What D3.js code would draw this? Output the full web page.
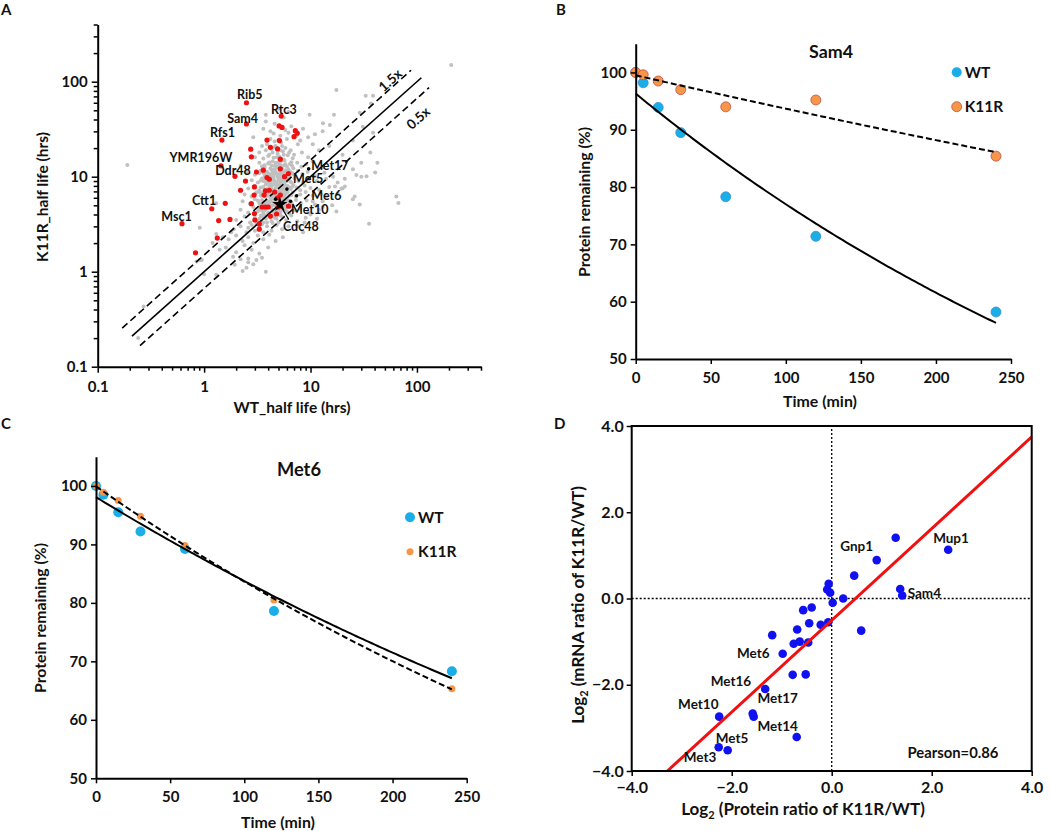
<!DOCTYPE html>
<html><head><meta charset="utf-8">
<script src="https://cdn.jsdelivr.net/npm/d3@7"></script>
<style>
body{margin:0;background:#fff}
svg{display:block}
text{font-family:Lato,'Open Sans',sans-serif;font-weight:bold;fill:#111}
</style>
</head><body><svg id="c" width="1050" height="831"></svg>
<script>
// ---------------- Panel A data (half lives, hrs) ----------------
const grayPts = [
[0.19,13.3],[0.24,0.2],[0.27,0.43],[210,150],[17.5,82],[33,71],[38.7,71],[37,59],[16.6,45],[29,47],[9.8,45],[13.1,36.5],[15.2,35],[31,33.6],[38.7,29],[36.5,18],[42.5,14],[30,14],[40.5,11.1],[33.6,10.1],[27,10.4],[21,9.5],[16.3,10],[20,7.5],[26,6.2],[64,6.2],[67,5.3],[29,5.1],[17.5,4.3],[35.5,3.2],[0.91,2.9],[1.0,0.94],[1.3,0.93],[0.95,1.33],[0.85,1.28],[0.91,1.33],[1.3,5.25],[8.5,2.6],[25,24],[25,12],[21,7.9],[30,10],[18,6.7],[25,5.8],[17,7.9],[19.5,7.5],
[3.0,16],[3.3,18],[3.6,15.5],[3.9,22],[4.1,17],[4.3,19.5],[4.5,15.8],[4.7,21],[4.9,17.5],[5.1,16.2],[5.3,23],[5.5,18.5],[5.8,20],[6.1,16.8],[6.5,19],[7.0,17],[7.6,22],[8.3,18],[9.5,16],[12,19],[15,21],[20,17],[4.2,25],[5.0,24.5],[6.0,25],[3.5,21],[4.6,23.5],[5.6,15.2],[6.8,15.6],[8.0,24],[10.5,22],
[2.9,26],[3.6,32],[4.2,30],[4.6,36],[5.2,27],[5.8,31],[6.6,34],[7.4,27],[8.5,32],[11,28],[13,30],[4.5,28.5],[3.8,38],[6.2,29],[9.5,26],[3.8,45],[5.0,52],[5.6,42],[6.2,48],
[2.2,13],[3.3,14],[3.7,12.5],[4.0,13.8],[4.2,12.2],[4.4,14.5],[4.6,13],[4.8,12.4],[5.0,14.2],[5.2,13.3],[5.4,12.1],[5.7,14.8],[6.0,12.8],[6.4,13.6],[6.9,12.3],[7.5,14],[8.2,12.7],[9.1,13.5],[10.5,14.5],[13,12.5],[3.5,12.9],[4.5,12.0],[5.6,13.1],[6.6,14.2],
[2.5,11],[3.0,10.5],[3.4,11.6],[3.7,10.2],[3.9,11.3],[4.1,10.6],[4.3,11.8],[4.5,10.3],[4.7,11.1],[4.9,10.1],[5.1,11.5],[5.3,10.8],[5.5,10.2],[5.8,11.7],[6.1,10.5],[6.5,11.2],[7.0,10.4],[7.6,11.5],[8.4,10.7],[9.4,11.3],[11,10.2],[13.5,11],[4.0,10.9],[4.6,11.6],[5.0,10.5],[5.6,11.1],[6.3,10.1],
[2.8,9.2],[3.2,8.7],[3.5,9.6],[3.8,8.9],[4.0,9.4],[4.2,8.6],[4.4,9.8],[4.6,9.0],[4.8,8.8],[5.0,9.5],[5.2,8.6],[5.4,9.2],[5.6,9.9],[5.9,8.9],[6.2,9.3],[6.6,8.7],[7.1,9.6],[7.7,9.0],[8.5,8.8],[9.6,9.4],[11.5,9.0],[14,9.5],[18,8.7],[4.3,9.1],[4.9,9.9],[5.5,8.8],[6.0,9.7],[3.6,9.0],
[2.6,7.5],[3.0,8.0],[3.3,7.2],[3.6,7.8],[3.8,8.3],[4.0,7.1],[4.2,7.7],[4.4,8.2],[4.6,7.3],[4.8,7.9],[5.0,7.0],[5.2,8.4],[5.5,7.6],[5.8,7.2],[6.1,8.0],[6.5,7.4],[6.9,8.2],[7.4,7.7],[8.0,7.2],[8.8,8.1],[10,7.6],[12,7.3],[15,7.8],[4.3,7.5],[4.9,8.2],[5.4,7.3],[6.3,7.7],[3.9,7.4],[4.5,8.4],[5.7,8.3],
[2.4,6.5],[2.8,6.2],[3.1,6.8],[3.4,6.3],[3.6,6.9],[3.8,6.1],[4.0,6.6],[4.2,6.0],[4.4,6.8],[4.6,6.4],[4.8,6.9],[5.0,6.2],[5.3,6.6],[5.6,6.1],[5.9,6.7],[6.3,6.3],[6.8,6.8],[7.3,6.2],[8.0,6.5],[9.0,6.9],[10.5,6.3],[12.5,6.6],[4.1,6.3],[4.7,6.0],[5.1,6.9],[5.5,6.4],[3.5,6.6],[6.0,6.0],
[2.3,5.5],[2.7,5.2],[3.0,5.8],[3.3,5.3],[3.5,5.7],[3.7,5.1],[3.9,5.6],[4.1,5.2],[4.3,5.9],[4.5,5.4],[4.7,5.0],[4.9,5.7],[5.2,5.3],[5.5,5.8],[5.8,5.1],[6.2,5.6],[6.7,5.2],[7.3,5.7],[8.1,5.3],[9.2,5.6],[11,5.1],[13,5.5],[4.0,5.4],[4.4,5.0],[4.8,5.4],[5.3,5.9],[5.6,5.4],[3.6,5.4],
[2.2,4.5],[2.6,4.2],[2.9,4.8],[3.2,4.3],[3.4,4.7],[3.6,4.1],[3.8,4.6],[4.0,4.2],[4.2,4.8],[4.4,4.4],[4.6,4.0],[4.9,4.6],[5.2,4.2],[5.6,4.7],[6.0,4.3],[6.5,4.8],[7.1,4.4],[8.0,4.6],[9.5,4.2],[12,4.5],[3.5,4.4],[4.1,4.9],[4.7,4.3],[5.4,4.5],
[2.0,3.5],[2.4,3.8],[2.7,3.3],[3.0,3.7],[3.2,3.4],[3.4,3.9],[3.6,3.3],[3.8,3.6],[4.0,3.9],[4.3,3.4],[4.6,3.7],[5.0,3.3],[5.4,3.8],[5.9,3.5],[6.6,3.9],[7.5,3.4],[9,3.7],[3.1,3.2],[3.7,3.95],[4.4,3.25],
[1.9,2.8],[2.2,3.0],[2.5,2.6],[2.8,3.1],[3.0,2.7],[3.3,2.9],[3.6,2.6],[3.9,3.0],[4.3,2.7],[4.8,3.1],[5.4,2.8],[6.2,3.0],[2.6,2.9],[3.5,3.15],
[1.7,2.2],[2.0,2.4],[2.3,2.1],[2.6,2.3],[2.9,2.0],[3.2,2.4],[3.6,2.2],[4.1,2.45],[4.7,2.1],[5.5,2.3],
[1.6,1.8],[2.0,1.6],[2.4,1.9],[2.8,1.7],[3.3,1.55],[4.0,1.8],[1.2,2.0],[1.4,1.7],[1.3,2.5],[1.5,2.3],[1.8,2.6],
[2.5,1.1],[2.9,1.2],[3.8,1.0],[3.5,1.4],[2.2,1.35],[1.87,1.44],[1.94,1.18],[2.6,1.38],[2.6,1.26],[3.1,1.33],[2.3,1.02],
[7.5,3.0],[8.8,3.3],[10,4.0],[11.5,3.6],[13,4.8],[16,5.0],[10.5,5.5],[14,6.2],
[3.7,13.2],[4.1,14.1],[4.3,13.1],[4.7,14.0],[4.9,13.0],[5.1,12.5],[5.3,14.6],[5.8,13.5],[6.2,12.0],[6.7,13.0],
[3.3,10.9],[3.6,11.0],[3.8,10.6],[4.2,10.3],[4.4,11.1],[4.8,10.8],[5.2,10.2],[5.4,11.3],[5.9,10.8],[6.8,10.9],
[3.4,9.1],[3.7,9.5],[3.9,8.6],[4.1,9.1],[4.5,9.5],[4.7,8.6],[5.1,9.1],[5.3,9.8],[5.7,9.3],[6.4,9.0],
[3.4,7.7],[3.7,7.3],[4.1,8.0],[4.3,7.2],[4.7,7.6],[5.1,7.5],[5.3,8.0],[5.6,7.9],[6.0,7.5],[6.7,7.8],
[3.3,6.9],[3.9,6.4],[4.3,6.5],[4.5,6.1],[4.9,6.5],[5.2,6.1],[5.4,6.8],[5.7,6.5],[6.1,6.9],[6.6,6.4],
[3.2,5.6],[3.4,5.1],[3.8,5.3],[4.2,5.5],[4.6,5.7],[5.0,5.1],[5.1,5.6],[5.4,5.2],[5.9,5.5],[6.4,5.3],
[3.3,4.5],[3.7,4.4],[3.9,4.9],[4.3,4.6],[4.5,4.2],[4.8,4.9],[5.0,4.4],[5.3,4.8],[5.8,4.5],[6.3,4.1],
[3.3,3.6],[3.5,3.8],[3.9,3.3],[4.2,3.7],[4.8,3.6],[5.2,3.9],
[4.0,16.5],[4.4,18],[4.8,16],[5.2,19],[5.6,17],[6.3,18],[3.8,19],[4.6,20.5],[5.4,21]
];
const redPts = [
[2.5,60],[5.3,43.5],[2.5,35.9],[5.07,34.2],[5.4,33],[7.2,30.5],[7.5,28.7],[7.0,26.4],[1.47,24.3],[3.9,24.3],[5.1,24],[4.2,20.4],[4.9,19.6],[2.74,19.5],[2.78,16.2],[1.44,13],[5.2,12.1],[6.2,10.8],[1.95,10.1],[3.6,11.7],[3.1,11.2],[2.45,9.0],[3.9,9.8],[4.1,9.4],[5.7,10],[2.2,7.2],[2.97,7.8],[3.77,7.1],[3.66,6.4],[2.95,6.4],[4.6,6.9],[4.9,6.0],[4.1,7.2],[1.58,5.25],[1.18,4.6],[2.78,5.2],[3.5,4.8],[3.77,4.8],[4.0,4.8],[5.0,4.8],[4.8,4.05],[2.97,4.1],[3.0,3.5],[1.37,3.45],[1.75,3.55],[3.3,3.18],[4.2,3.85],[0.62,3.2],[1.33,2.26],[3.3,2.8],[0.83,1.58],[6.2,4.9],[5.2,6.4],[5.2,15.3]
];
const blackPts = [[9.6,12.1],[6.0,7.4],[7.4,6.3],[4.7,5.8],[6.5,5.5]];
const cdc48Pt = [5.15,5.1];
const refLines = [ // ratio K11R/WT, WT range
  {ratio:1, from:0.21, to:110, dash:null},
  {ratio:1.5, from:0.17, to:88, dash:"7,4"},
  {ratio:1/1.5, from:0.25, to:130, dash:"7,4"}
];
const labelsA = [
  {t:"Rib5",x:2.69,y:73.6},{t:"Sam4",x:2.30,y:40.5},{t:"Rtc3",x:5.61,y:51.2},{t:"Rfs1",x:1.49,y:29},
  {t:"YMR196W",x:0.933,y:15.8},{t:"Ddr48",x:1.87,y:11.5},{t:"Ctt1",x:1.0,y:5.55},{t:"Msc1",x:0.55,y:3.8},
  {t:"Met17",x:15.2,y:13.1},{t:"Met5",x:9.5,y:9.46},{t:"Met6",x:14.1,y:6.3},{t:"Met10",x:9.84,y:4.54},{t:"Cdc48",x:8.1,y:2.98}
];
const majorTicksA = [0.1,1,10,100];

// ---------------- Panel B / C data ----------------
const timeMin = [0,5,15,30,60,120,240];
const sam4WT   = [100,98.2,93.9,89.5,78.3,71.4,58.2];
const sam4K11R = [100,99.6,98.5,97.0,94.0,95.2,85.4];
const met6WT   = [100,98.5,95.5,92.2,89.2,78.6,68.3];
const met6K11R = [100,98.9,97.5,94.8,89.8,80.5,65.3];
const timeTicks = [0,50,100,150,200,250];
const pctTicks = [50,60,70,80,90,100];

// ---------------- Panel D data ----------------
const protLog2 = [1.28,2.33,0.90,0.45,1.37,1.41,-0.06,-0.09,-0.03,0.02,0.23,-0.57,-0.40,-0.45,-0.22,-0.07,-0.69,0.59,-1.19,-0.64,-0.76,-0.47,-0.98,-0.78,-0.52,-1.33,-1.58,-1.56,-2.25,-0.70,-2.26,-2.08];
const mrnaLog2 = [1.41,1.13,0.89,0.53,0.22,0.07,0.34,0.21,0.135,-0.10,0.0,-0.27,-0.21,-0.575,-0.61,-0.55,-0.72,-0.745,-0.85,-1.0,-1.05,-1.02,-1.28,-1.77,-1.76,-2.1,-2.67,-2.74,-2.74,-3.21,-3.45,-3.52];
const labelsD = [
  {t:"Gnp1",x:0.5,y:1.20,a:"middle"},{t:"Mup1",x:2.386,y:1.396,a:"middle"},{t:"Sam4",x:1.52,y:0.128,a:"start"},
  {t:"Met6",x:-1.568,y:-1.28,a:"middle"},{t:"Met16",x:-2.014,y:-1.913,a:"middle"},{t:"Met17",x:-1.08,y:-2.323,a:"middle"},
  {t:"Met10",x:-2.668,y:-2.463,a:"middle"},{t:"Met14",x:-1.08,y:-2.963,a:"middle"},{t:"Met5",x:-1.994,y:-3.242,a:"middle"},
  {t:"Met3",x:-2.634,y:-3.692,a:"middle"}
];
const dTicks = [-4,-2,0,2,4];

// ---------------- Drawing ----------------
const svg = d3.select("#c");
const WT_COL = "#1aaee8", WT_STROKE = "#3d8fcf", K_COL = "#f79646", K_STROKE = "#c0504d";

function fitW(sel, w){
  const n = sel.node(); const fs = parseFloat(sel.attr("font-size"));
  const len = n.getComputedTextLength(); if(len>0) sel.attr("font-size", (fs*w/len).toFixed(2));
  return sel;
}

function letter(t,x,y){ svg.append("text").attr("x",x).attr("y",y).attr("font-size",15).text(t); }
letter("A",1,15); letter("B",556,15); letter("C",1,429); letter("D",554,429);

function styleAxis(g){
  g.select(".domain").attr("stroke","#000").attr("stroke-width",2);
  g.selectAll(".tick line").attr("stroke","#000").attr("stroke-width",1.5);
}

// ===== Panel A =====
const xA = d3.scaleLog().domain([0.1,400]).range([97.7,481]);
const yA = d3.scaleLog().domain([0.1,400]).range([366.7,24.5]);
const gA = svg.append("g");
gA.selectAll("circle.gr").data(grayPts).join("circle").attr("class","gr")
  .attr("cx",d=>xA(d[0])).attr("cy",d=>yA(d[1])).attr("r",2).attr("fill","#c0c0c0");
gA.selectAll("line.ref").data(refLines).join("line").attr("class","ref")
  .attr("x1",d=>xA(d.from)).attr("y1",d=>yA(d.from*d.ratio))
  .attr("x2",d=>xA(d.to)).attr("y2",d=>yA(d.to*d.ratio))
  .attr("stroke","#000").attr("stroke-width",1.6).attr("stroke-dasharray",d=>d.dash);
gA.selectAll("circle.rd").data(redPts).join("circle").attr("class","rd")
  .attr("cx",d=>xA(d[0])).attr("cy",d=>yA(d[1])).attr("r",2.6).attr("fill","#ee1111");
gA.selectAll("circle.bk").data(blackPts).join("circle").attr("class","bk")
  .attr("cx",d=>xA(d[0])).attr("cy",d=>yA(d[1])).attr("r",1.8).attr("fill","#000");
gA.append("path").attr("d",d3.symbol(d3.symbolStar,70)())
  .attr("transform",`translate(${xA(cdc48Pt[0])},${yA(cdc48Pt[1])})`).attr("fill","#000");
const cdcLab = labelsA.find(l=>l.t==="Cdc48");
gA.append("line").attr("x1",xA(cdc48Pt[0])).attr("y1",yA(cdc48Pt[1]))
  .attr("x2",xA(cdcLab.x)-12).attr("y2",yA(cdcLab.y)-7).attr("stroke","#000").attr("stroke-width",1.2);
gA.selectAll("text.lab").data(labelsA).join("text").attr("class","lab")
  .attr("x",d=>xA(d.x)).attr("y",d=>yA(d.y)).attr("dy","0.35em").attr("text-anchor","middle")
  .attr("font-size",12.5).text(d=>d.t);
const ang = Math.atan2(yA(1)-yA(10), xA(10)-xA(1))*180/Math.PI;
gA.append("text").attr("transform",`translate(${xA(60)},${yA(95)}) rotate(${-ang})`).attr("text-anchor","middle").attr("font-size",13.5).text("1.5x");
gA.append("text").attr("transform",`translate(${xA(110)},${yA(38)}) rotate(${-ang})`).attr("text-anchor","middle").attr("font-size",13.5).text("0.5x");

function logAxis(axisGen, scale, isY){
  return g=>{
    g.call(axisGen.tickValues(scale.ticks()).tickSizeOuter(0)
      .tickFormat(d=>majorTicksA.some(m=>Math.abs(m-d)<1e-9)? String(d):""));
    styleAxis(g);
    g.selectAll(".tick").each(function(d){
      const major = majorTicksA.some(m=>Math.abs(m-d)<1e-9);
      const ln = d3.select(this).select("line");
      if(isY) ln.attr("x2", major?-6:-4); else ln.attr("y2", major?6:4);
    });
    g.selectAll(".tick text").attr("font-size",15).attr("fill","#111");
  };
}
svg.append("g").attr("transform","translate(0,366.7)").call(logAxis(d3.axisBottom(xA),xA,false))
  .selectAll(".tick text").attr("dy","1.1em");
svg.append("g").attr("transform","translate(97.7,0)").call(logAxis(d3.axisLeft(yA),yA,true))
  .selectAll(".tick text").attr("x",-10);
fitW(svg.append("text").attr("x",292).attr("y",413).attr("text-anchor","middle").attr("font-size",15).text("WT_half life (hrs)"),117);
fitW(svg.append("text").attr("transform","translate(48,197) rotate(-90)").attr("text-anchor","middle").attr("font-size",15).text("K11R_half life (hrs)"),130);

// ===== Panels B and C =====
function expFit(t, y){
  const ly=y.map(Math.log);
  const mt=d3.mean(t), ml=d3.mean(ly);
  let sxy=0,sxx=0; t.forEach((v,i)=>{sxy+=(v-mt)*(ly[i]-ml); sxx+=(v-mt)*(v-mt);});
  const b=sxy/sxx, a=Math.exp(ml-b*mt);
  return x=>a*Math.exp(b*x);
}
function decayPanel(o){
  const x = d3.scaleLinear().domain([0,250]).range(o.xr);
  const y = d3.scaleLinear().domain([50,105]).range(o.yr);
  const g = svg.append("g");
  const wt = timeMin.map((t,i)=>[t,o.wt[i]]), kr = timeMin.map((t,i)=>[t,o.kr[i]]);
  g.selectAll("circle.w").data(wt).join("circle").attr("class","w")
    .attr("cx",d=>x(d[0])).attr("cy",d=>y(d[1])).attr("r",o.rW).attr("fill",WT_COL)
    .attr("stroke",o.stroke?WT_STROKE:"none").attr("stroke-width",0.8);
  g.selectAll("circle.k").data(kr).join("circle").attr("class","k")
    .attr("cx",d=>x(d[0])).attr("cy",d=>y(d[1])).attr("r",o.rK).attr("fill",K_COL)
    .attr("stroke",o.stroke?K_STROKE:"none").attr("stroke-width",0.8);
  const tt = d3.range(0,241,2);
  const fW = expFit(timeMin,o.wt), fK = expFit(timeMin,o.kr);
  const line = d3.line().x(d=>x(d[0])).y(d=>y(d[1]));
  g.append("path").attr("d",line(tt.map(t=>[t,fW(t)]))).attr("fill","none").attr("stroke","#000").attr("stroke-width",2);
  g.append("path").attr("d",line(tt.map(t=>[t,fK(t)]))).attr("fill","none").attr("stroke","#000").attr("stroke-width",2).attr("stroke-dasharray","6,3");
  const ax = svg.append("g").attr("transform",`translate(0,${o.yr[0]})`)
    .call(d3.axisBottom(x).tickValues(timeTicks).tickSize(5).tickSizeOuter(0));
  styleAxis(ax); ax.selectAll(".tick text").attr("font-size",15).attr("dy","1.05em").attr("fill","#111");
  const ay = svg.append("g").attr("transform",`translate(${o.xr[0]},0)`)
    .call(d3.axisLeft(y).tickValues(pctTicks).tickSize(5).tickSizeOuter(0));
  styleAxis(ay); ay.selectAll(".tick text").attr("font-size",15).attr("x",-9).attr("fill","#111");
  fitW(svg.append("text").attr("x",o.title[0]).attr("y",o.title[1]).attr("text-anchor","middle").attr("font-size",17).text(o.name),44);
  fitW(svg.append("text").attr("x",o.xlab[0]).attr("y",o.xlab[1]).attr("text-anchor","middle").attr("font-size",15).text("Time (min)"),74);
  fitW(svg.append("text").attr("transform",`translate(${o.ylab[0]},${o.ylab[1]}) rotate(-90)`).attr("text-anchor","middle").attr("font-size",15).text("Protein remaining (%)"),150);
  const lg = [{n:"WT",c:WT_COL,s:WT_STROKE,r:o.rW},{n:"K11R",c:K_COL,s:K_STROKE,r:o.rK}];
  lg.forEach((d,i)=>{
    const cy = o.leg[1]+i*o.legGap;
    svg.append("circle").attr("cx",o.leg[0]).attr("cy",cy).attr("r",d.r).attr("fill",d.c).attr("stroke",o.stroke&&i===1?d.s:"none").attr("stroke-width",0.8);
    svg.append("text").attr("x",o.leg[0]+8).attr("y",cy).attr("dy","0.35em").attr("font-size",15.5).text(d.n);
  });
}
decayPanel({name:"Sam4",wt:sam4WT,kr:sam4K11R,xr:[635.7,1011],yr:[359,43.8],rW:5,rK:5,stroke:true,
  title:[831,58],xlab:[820,407],ylab:[590,202],leg:[956.7,72.3],legGap:34.4});
decayPanel({name:"Met6",wt:met6WT,kr:met6K11R,xr:[96,466.7],yr:[778.3,456.7],rW:5,rK:3.5,stroke:false,
  title:[299,476],xlab:[278,828],ylab:[46,618],leg:[410,517.3],legGap:34.4});

// ===== Panel D =====
const xD = d3.scaleLinear().domain([-4,4]).range([631.7,1031.7]);
const yD = d3.scaleLinear().domain([-4,4]).range([771,426]);
const gD = svg.append("g");
const ptsD = protLog2.map((v,i)=>[v,mrnaLog2[i]]);
gD.append("line").attr("x1",xD(0)).attr("x2",xD(0)).attr("y1",yD(-4)).attr("y2",yD(4))
  .attr("stroke","#000").attr("stroke-width",1.3).attr("stroke-dasharray","2,2");
gD.append("line").attr("x1",xD(-4)).attr("x2",xD(4)).attr("y1",yD(0)).attr("y2",yD(0))
  .attr("stroke","#000").attr("stroke-width",1.3).attr("stroke-dasharray","2,2");
gD.selectAll("circle").data(ptsD).join("circle").attr("cx",d=>xD(d[0])).attr("cy",d=>yD(d[1])).attr("r",4.3).attr("fill","#1010f0");
(function(){
  const mx=d3.mean(protLog2), my=d3.mean(mrnaLog2);
  let sxy=0,sxx=0; protLog2.forEach((v,i)=>{sxy+=(v-mx)*(mrnaLog2[i]-my); sxx+=(v-mx)*(v-mx);});
  const b=sxy/sxx, a=my-b*mx;
  const x0=(-4-a)/b, x1=4;
  gD.append("line").attr("x1",xD(x0)).attr("y1",yD(a+b*x0)).attr("x2",xD(x1)).attr("y2",yD(a+b*x1))
    .attr("stroke","#f01010").attr("stroke-width",3);
})();
gD.append("rect").attr("x",xD(-4)).attr("y",yD(4)).attr("width",xD(4)-xD(-4)).attr("height",yD(-4)-yD(4))
  .attr("fill","none").attr("stroke","#000").attr("stroke-width",2);
const axD = svg.append("g").attr("transform",`translate(0,${yD(-4)})`).call(d3.axisBottom(xD).tickValues(dTicks).tickSize(5).tickSizeOuter(0).tickFormat(d3.format(".1f")));
styleAxis(axD); axD.select(".domain").remove(); axD.selectAll(".tick text").attr("font-size",16).attr("dy","0.9em").attr("fill","#111");
const ayD = svg.append("g").attr("transform",`translate(${xD(-4)},0)`).call(d3.axisLeft(yD).tickValues(dTicks).tickSize(5).tickSizeOuter(0).tickFormat(d3.format(".1f")));
styleAxis(ayD); ayD.select(".domain").remove(); ayD.selectAll(".tick text").attr("font-size",16).attr("x",-8).attr("fill","#111");
gD.selectAll("text.dl").data(labelsD).join("text").attr("class","dl")
  .attr("x",d=>xD(d.x)).attr("y",d=>yD(d.y)).attr("dy","0.35em").attr("text-anchor",d=>d.a).attr("font-size",13.5).text(d=>d.t);
fitW(svg.append("text").attr("x",953).attr("y",753).attr("dy","0.35em").attr("text-anchor","middle").attr("font-size",15.5).text("Pearson=0.86"),91);
const xt = svg.append("text").attr("x",803).attr("y",815).attr("text-anchor","middle").attr("font-size",17);
xt.append("tspan").text("Log");
xt.append("tspan").attr("font-size",11).attr("dy",4).text("2");
xt.append("tspan").attr("dy",-4).text(" (Protein ratio of K11R/WT)");
const yt = svg.append("text").attr("transform","translate(584,605) rotate(-90)").attr("text-anchor","middle").attr("font-size",17);
yt.append("tspan").text("Log");
yt.append("tspan").attr("font-size",11).attr("dy",4).text("2");
yt.append("tspan").attr("dy",-4).text(" (mRNA ratio of K11R/WT)");
</script></body></html>
